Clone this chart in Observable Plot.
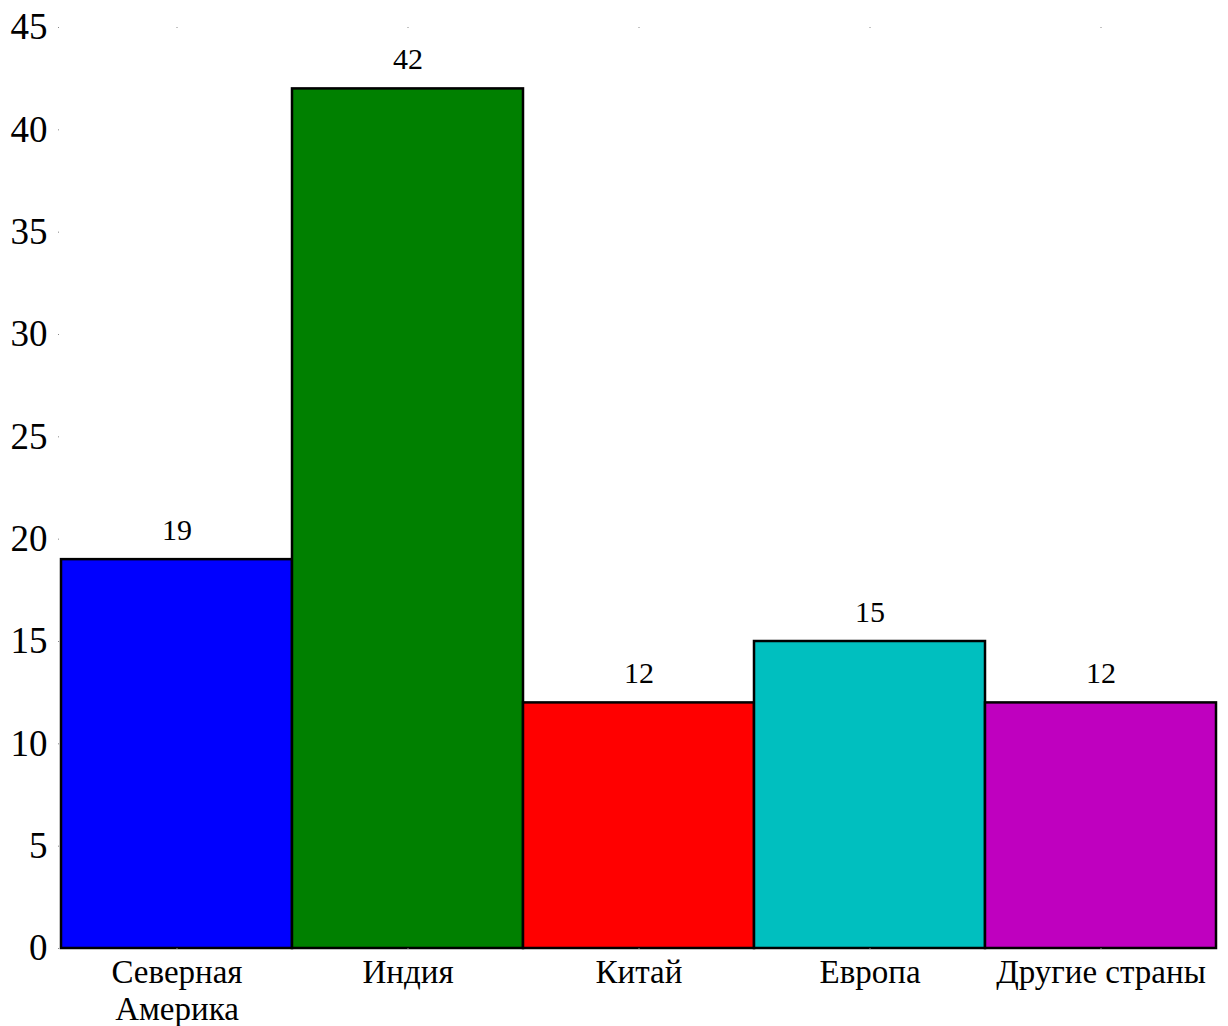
<!DOCTYPE html>
<html><head><meta charset="utf-8">
<script src="https://cdn.jsdelivr.net/npm/d3@7"></script>
<script src="https://cdn.jsdelivr.net/npm/@observablehq/plot@0.6"></script>
<style>body{margin:0;background:#fff;} #chart svg{display:block;}</style>
</head><body><div id="chart"></div>
<script>
const categories = ["Северная\nАмерика", "Индия", "Китай", "Европа", "Другие страны"];
const values = [19, 42, 12, 15, 12];
const colors = ["#0000ff", "#008000", "#ff0000", "#00bfbf", "#bf00bf"];
const yTicks = [0, 5, 10, 15, 20, 25, 30, 35, 40, 45];

const data = categories.map((c, i) => ({cat: c, v: values[i], color: colors[i]}));
const font = "'Liberation Serif', 'DejaVu Serif', serif";

const chart = Plot.plot({
  width: 1228, height: 1026,
  marginLeft: 59, marginRight: 11, marginTop: 27, marginBottom: 78,
  style: {fontFamily: font, background: "#fff", color: "#000"},
  x: {domain: categories, padding: 0, label: null},
  y: {domain: [0, 45], label: null},
  marks: [
    Plot.barY(data, {x: "cat", y: "v", fill: "color", stroke: "#000", strokeWidth: 2.5}),
    Plot.text(data, {x: "cat", y: "v", text: d => String(d.v), dy: -20, lineAnchor: "bottom", fontSize: 30, fill: "#000"}),
    Plot.axisY({ticks: yTicks, tickSize: 1, tickPadding: 11, fontSize: 37, stroke: "#888", label: null}),
    Plot.axisX({anchor: "bottom", tickSize: 1, tickPadding: 8, fontSize: 33, lineHeight: 1.1, stroke: "#888", label: null}),
    Plot.axisX({anchor: "top", tickSize: 1, tickFormat: () => "", stroke: "#888", label: null})
  ]
});
document.getElementById("chart").appendChild(chart);
</script></body></html>
